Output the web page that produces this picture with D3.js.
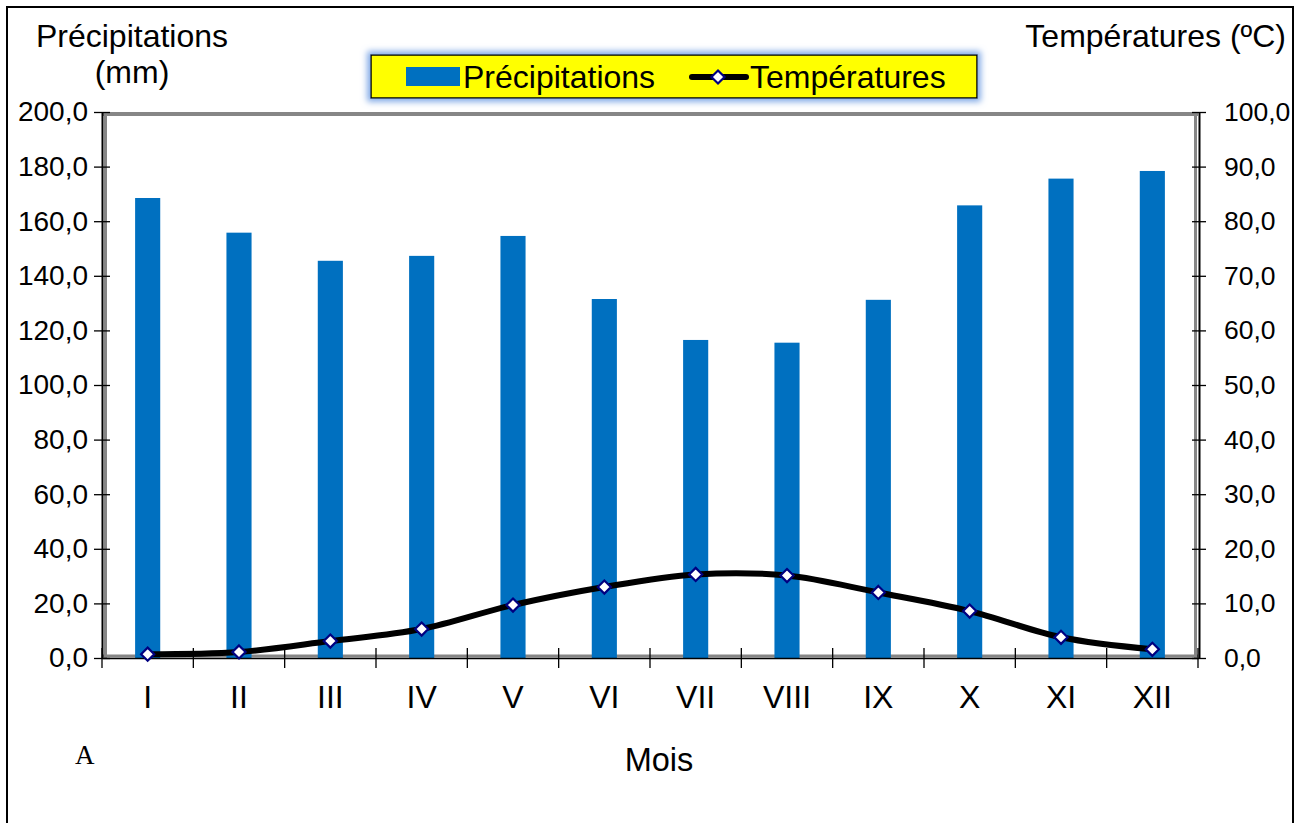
<!DOCTYPE html>
<html>
<head>
<meta charset="utf-8">
<script src="https://cdn.jsdelivr.net/npm/d3@7"></script>
<style>
  html, body { margin: 0; padding: 0; background: #fff; }
  svg { display: block; font-family: "Liberation Sans", Arial, sans-serif; }
</style>
</head>
<body>
<svg id="chart" width="1302" height="823"></svg>
<script>
// Monthly climate data
const months = ["I", "II", "III", "IV", "V", "VI", "VII", "VIII", "IX", "X", "XI", "XII"];
const precipitation = [168.5, 155.8, 145.5, 147.3, 154.6, 131.5, 116.5, 115.5, 131.2, 165.8, 175.6, 178.4];
const temperature = [0.7, 1.1, 3.1, 5.3, 9.7, 13.0, 15.3, 15.1, 12.0, 8.6, 3.8, 1.6];
const precipTicks = [0, 20, 40, 60, 80, 100, 120, 140, 160, 180, 200];
const tempTicks = [0, 10, 20, 30, 40, 50, 60, 70, 80, 90, 100];

const svg = d3.select("#chart");
const plot = { left: 102, right: 1198, top: 112, bottom: 658 };
const FONT = "Liberation Sans, Arial, sans-serif";

const fr = d3.formatLocale({ decimal: ",", thousands: " ", grouping: [3], currency: ["", " €"] });
const fmt = fr.format(".1f");

const x = d3.scaleBand().domain(months).range([plot.left, plot.right]).padding(0);
const yP = d3.scaleLinear().domain([0, 200]).range([plot.bottom, plot.top]);
const yT = d3.scaleLinear().domain([0, 100]).range([plot.bottom, plot.top]);

// Outer frame
svg.append("rect")
  .attr("x", 7).attr("y", 7).attr("width", 1286).attr("height", 830)
  .attr("fill", "none").attr("stroke", "#000").attr("stroke-width", 2);

// Plot area edges (grey inner border)
const g = svg.append("g");
g.append("line").attr("x1", plot.left).attr("x2", plot.right).attr("y1", plot.top + 2).attr("y2", plot.top + 2)
  .attr("stroke", "#868686").attr("stroke-width", 4);
g.append("line").attr("x1", plot.left + 3.5).attr("x2", plot.left + 3.5).attr("y1", plot.top).attr("y2", plot.bottom)
  .attr("stroke", "#868686").attr("stroke-width", 3);
g.append("line").attr("x1", plot.right - 2.5).attr("x2", plot.right - 2.5).attr("y1", plot.top).attr("y2", plot.bottom)
  .attr("stroke", "#868686").attr("stroke-width", 3);
g.append("line").attr("x1", plot.left).attr("x2", plot.right).attr("y1", plot.bottom - 2).attr("y2", plot.bottom - 2)
  .attr("stroke", "#868686").attr("stroke-width", 3);

// Bars
const barW = x.bandwidth() * 0.275;
svg.append("g").selectAll("rect")
  .data(months.map((m, i) => ({ m, v: precipitation[i] })))
  .join("rect")
  .attr("x", d => x(d.m) + x.bandwidth() / 2 - barW / 2)
  .attr("width", barW)
  .attr("y", d => yP(d.v))
  .attr("height", d => yP(0) - yP(d.v))
  .attr("fill", "#0070C0");

// Left axis
const axL = svg.append("g").attr("transform", `translate(${plot.left},0)`)
  .call(d3.axisLeft(yP).tickValues(precipTicks).tickFormat(fmt).tickSizeInner(8).tickSizeOuter(0).tickPadding(6));
axL.select(".domain").attr("stroke", "#000").attr("stroke-width", 2);
axL.selectAll(".tick line").attr("stroke", "#000").attr("stroke-width", 1.3).attr("x1", 8).attr("x2", -8);
axL.selectAll(".tick text").attr("font-size", 28).attr("fill", "#000").attr("font-family", FONT);

// Right axis
const axR = svg.append("g").attr("transform", `translate(${plot.right + 1},0)`)
  .call(d3.axisRight(yT).tickValues(tempTicks).tickFormat(fmt).tickSizeInner(7).tickSizeOuter(0).tickPadding(18));
axR.select(".domain").attr("stroke", "#000").attr("stroke-width", 2);
axR.selectAll(".tick line").attr("stroke", "#000").attr("stroke-width", 1.3).attr("x1", -7).attr("x2", 7);
axR.selectAll(".tick text").attr("font-size", 26.5).attr("fill", "#000").attr("font-family", FONT);

// Bottom axis: labels centred under each month, ticks at band boundaries
const axB = svg.append("g").attr("transform", `translate(0,${plot.bottom})`)
  .call(d3.axisBottom(x).tickSize(0).tickPadding(27));
axB.select(".domain").attr("stroke", "#000").attr("stroke-width", 1.5);
axB.selectAll(".tick text").attr("font-size", 32).attr("fill", "#000").attr("font-family", FONT);
axB.append("g").selectAll("line")
  .data(d3.range(months.length + 1))
  .join("line")
  .attr("x1", i => plot.left + i * x.step()).attr("x2", i => plot.left + i * x.step())
  .attr("y1", -10).attr("y2", 10)
  .attr("stroke", "#000").attr("stroke-width", 1.3);

// Temperature line
const pts = months.map((m, i) => [x(m) + x.bandwidth() / 2, yT(temperature[i])]);
svg.append("path")
  .attr("d", d3.line().curve(d3.curveCatmullRom.alpha(0))(pts))
  .attr("fill", "none").attr("stroke", "#000").attr("stroke-width", 6)
  .attr("stroke-linecap", "round").attr("stroke-linejoin", "round");

const diamond = d3.symbol().type(d3.symbolDiamond2).size(110);
svg.append("g").selectAll("path")
  .data(pts)
  .join("path")
  .attr("transform", d => `translate(${d[0]},${d[1]})`)
  .attr("d", diamond)
  .attr("fill", "#fff").attr("stroke", "#000080").attr("stroke-width", 2.2);

// Axis titles
svg.append("text").attr("x", 132).attr("y", 47).attr("text-anchor", "middle")
  .attr("font-size", 32).text("Précipitations");
svg.append("text").attr("x", 132).attr("y", 83).attr("text-anchor", "middle")
  .attr("font-size", 32).text("(mm)");
svg.append("text").attr("x", 1286).attr("y", 47).attr("text-anchor", "end")
  .attr("font-size", 32).text("Températures (ºC)");
svg.append("text").attr("x", 659).attr("y", 771).attr("text-anchor", "middle")
  .attr("font-size", 32.5).text("Mois");
svg.append("text").attr("x", 75).attr("y", 764)
  .attr("font-family", "Liberation Serif, Times New Roman, serif")
  .attr("font-size", 27).text("A");

// Legend
const defs = svg.append("defs");
const glow = defs.append("filter").attr("id", "glow")
  .attr("x", "-5%").attr("y", "-50%").attr("width", "110%").attr("height", "200%");
glow.append("feMorphology").attr("in", "SourceAlpha").attr("operator", "dilate").attr("radius", 3).attr("result", "d");
glow.append("feGaussianBlur").attr("in", "d").attr("stdDeviation", 3).attr("result", "b");
glow.append("feFlood").attr("flood-color", "#7FA8E6");
glow.append("feComposite").attr("in2", "b").attr("operator", "in").attr("result", "c");
const merge = glow.append("feMerge");
merge.append("feMergeNode").attr("in", "c");
merge.append("feMergeNode").attr("in", "SourceGraphic");

const lg = svg.append("g");
lg.append("rect").attr("x", 371).attr("y", 55).attr("width", 606).attr("height", 43)
  .attr("fill", "#FFFF00").attr("stroke", "#000").attr("stroke-width", 1.5).attr("filter", "url(#glow)");
lg.append("rect").attr("x", 406).attr("y", 67).attr("width", 54).attr("height", 19).attr("fill", "#0070C0");
lg.append("text").attr("x", 463).attr("y", 88).attr("font-size", 32).text("Précipitations");
lg.append("line").attr("x1", 692).attr("x2", 746).attr("y1", 77).attr("y2", 77)
  .attr("stroke", "#000").attr("stroke-width", 6).attr("stroke-linecap", "round");
lg.append("path").attr("transform", "translate(718,77)").attr("d", diamond)
  .attr("fill", "#fff").attr("stroke", "#000080").attr("stroke-width", 2.2);
lg.append("text").attr("x", 750).attr("y", 88).attr("font-size", 32).text("Températures");
</script>
</body>
</html>
